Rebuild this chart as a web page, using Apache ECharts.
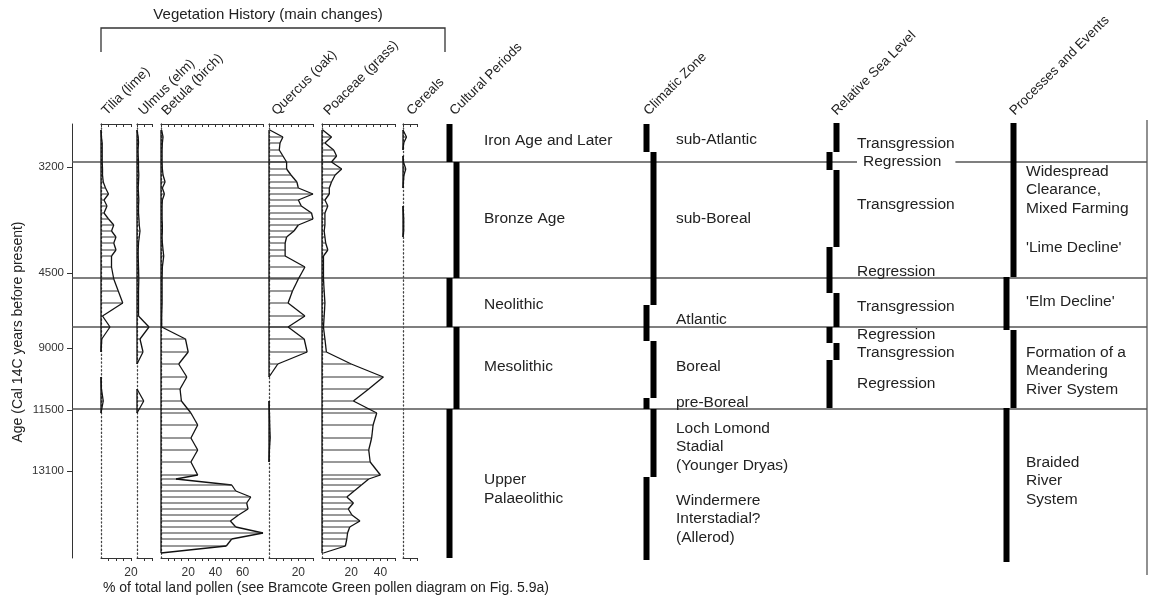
<!DOCTYPE html>
<html>
<head>
<meta charset="utf-8">
<script src="https://cdn.jsdelivr.net/npm/echarts@6/dist/echarts.min.js"></script>
<style>
  html, body { margin: 0; padding: 0; background: #fff; }
  #chart { width: 1151px; height: 604px; }
</style>
</head>
<body>
<div id="chart"></div>
<script>
// ---- data ----
// sample depths down the core (0 = top of diagram, 434 = base)
var depths = [6, 13, 19, 26, 32, 38, 45, 51, 58, 64, 70, 76, 82, 89, 95, 101, 107, 113, 119, 126, 132,
  143, 155, 167, 179, 192, 203, 215, 228, 240, 253, 265, 277, 289, 301, 314, 326, 338, 351,
  355, 361, 367, 373, 379, 385, 391, 397, 403, 409, 415, 422, 429];

// % of total land pollen at each depth
var tilia = [0, 0.3, 0.8, 0.8, 0.8, 0.8, 1, 1, 1.5, 3, 5, 2, 4, 2, 5, 8.5, 7, 10, 8.5, 10, 7,
  7, 8.5, 11.5, 14.5, 1, 6, 0.5, 0, 0, 0, 0.3, 1.5, 0, 0, 0, 0, 0, 0,
  0, 0, 0, 0, 0, 0, 0, 0, 0, 0, 0, 0, 0];
var ulmus = [0, 0.8, 1, 0.7, 0.8, 1, 1, 1.2, 1, 0.8, 1, 1.2, 1, 1, 1.3, 1.5, 2, 1.5, 1, 0.8, 0.8,
  1, 1.2, 1, 1, 1, 8, 2, 4, 0, 0, 0, 4.5, 0, 0, 0, 0, 0, 0,
  0, 0, 0, 0, 0, 0, 0, 0, 0, 0, 0, 0, 0];
var betula = [0.5, 1.5, 1, 0.8, 0.8, 0.8, 1, 1.5, 3, 1, 2.5, 1, 0.8, 0.8, 0.8, 1, 1, 0.8, 1, 1.5, 2,
  1, 0.8, 0.8, 0.8, 0.5, 0.5, 18, 20, 13, 19, 14, 15, 22, 27, 22, 27, 22, 27,
  11, 52, 55, 66, 63, 64, 57, 51, 55, 75, 52, 48, 0];
var quercus = [0.5, 9.5, 7.5, 7, 9.5, 12, 12, 15, 19, 20, 30, 20, 22, 29, 30, 20, 17, 12, 11, 11, 11,
  24.5, 20, 16, 13, 24.5, 13, 24, 26, 6, 0, 0, 0, 0.3, 0.5, 0.8, 0.3, 0, 0,
  0, 0, 0, 0, 0, 0, 0, 0, 0, 0, 0, 0, 0];
var poaceae = [0.5, 6.5, 2, 8, 10, 6.5, 13.5, 9, 6.5, 5, 5, 2, 4, 2, 2, 2, 1.5, 2, 2.5, 4, 1,
  1, 1, 1.5, 2, 1.5, 1, 2, 3, 20, 42, 32, 21.5, 37.5, 35, 34, 32, 33, 40,
  32, 27, 22, 17, 21.5, 18, 20.5, 26, 19, 17.5, 17, 16, 1];
var cereals = [0, 2.5, 0.5, 0, 0, 0.3, 2, 0.7, 0.3, 0, 0, 0, 0, 0.3, 0.5, 0.5, 0.5, 0, 0, 0, 0,
  0, 0, 0, 0, 0, 0, 0, 0, 0, 0, 0, 0, 0, 0, 0, 0, 0, 0,
  0, 0, 0, 0, 0, 0, 0, 0, 0, 0, 0, 0, 0];

var taxa = ['Tilia (lime)', 'Ulmus (elm)', 'Betula (birch)', 'Quercus (oak)', 'Poaceae (grass)', 'Cereals'];
var taxaMax = [20, 10, 75, 30, 50, 10];
var taxaLabels = [[20], [], [20, 40, 60], [20], [20, 40], []];

// age axis
var ageLabels = ['3200', '4500', '9000', '11500', '13100'];
var ageDepths = [43, 149, 224, 286, 347];
var zoneBounds = [38, 154, 203, 285];

// stepped bars: [from depth, to depth, side]
var culturalSteps = [[0, 38, 0], [38, 154, 1], [154, 203, 0], [203, 285, 1], [285, 434, 0]];
var climaticSteps = [[0, 28, 0], [28, 181, 1], [181, 217, 0], [217, 274, 1], [274, 285, 0], [285, 353, 1], [353, 436, 0]];
var seaSteps = [[-1, 28, 1], [28, 46, 0], [46, 123, 1], [123, 169, 0], [169, 203, 1], [203, 219, 0], [219, 236, 1], [236, 284, 0]];
var processSteps = [[-1, 153, 1], [153, 206, 0], [206, 284, 1], [284, 438, 0]];

var culturalLabels = [['Iron Age and Later', 17], ['Bronze Age', 95], ['Neolithic', 181], ['Mesolithic', 243], ['Upper\nPalaeolithic', 365]];
var climaticLabels = [['sub-Atlantic', 16], ['sub-Boreal', 95], ['Atlantic', 196], ['Boreal', 243], ['pre-Boreal', 279],
  ['Loch Lomond\nStadial\n(Younger Dryas)', 323], ['Windermere\nInterstadial?\n(Allerod)', 395]];
var seaLabels = [['Transgression', 20], ['Regression', 38], ['Transgression', 81], ['Regression', 148],
  ['Transgression', 183], ['Regression', 211], ['Transgression', 229], ['Regression', 260]];
var processLabels = [['Widespread\nClearance,\nMixed Farming', 66], ["'Lime Decline'", 124], ["'Elm Decline'", 178],
  ['Formation of a\nMeandering\nRiver System', 247], ['Braided\nRiver\nSystem', 357]];

// ---- layout ----
var FONT = '"Liberation Sans", Arial, sans-serif';
var TOP = 124, HEIGHT = 434, DMAX = 434;
var panelLeft = [101, 137, 161, 269, 322, 403];
var panelWidth = [30, 15, 102, 44, 73, 14];
var BAR_W = 6, BAR_SHIFT = 7;
var barX = { cultural: 449.5, climatic: 646.5, sea: 829.5, process: 1006.5 };
var textX = { cultural: 484, climatic: 676, sea: 857, process: 1026 };

var myChart = echarts.init(document.getElementById('chart'));

var grids = [], xAxes = [], yAxes = [], series = [];

taxa.forEach(function (name, g) {
  var values = [tilia, ulmus, betula, quercus, poaceae, cereals][g];
  grids.push({ left: panelLeft[g], width: panelWidth[g], top: TOP, height: HEIGHT, outerBoundsMode: 'none' });
  var labels = taxaLabels[g];
  xAxes.push({
    gridIndex: g, type: 'value', min: 0, max: taxaMax[g], interval: 5, position: 'bottom',
    axisLine: { show: true, onZero: false, lineStyle: { color: '#333', width: 1 } },
    axisTick: { show: true, length: 3, lineStyle: { color: '#333' } },
    axisLabel: {
      show: true, margin: 9, fontSize: 12, color: '#333', fontFamily: FONT,
      showMinLabel: false,
      formatter: function (v) { return labels.indexOf(v) >= 0 ? String(v) : ''; }
    },
    splitLine: { show: false }
  });
  xAxes.push({
    gridIndex: g, type: 'value', min: 0, max: taxaMax[g], interval: 5, position: 'top',
    axisLine: { show: true, onZero: false, lineStyle: { color: '#333', width: 1 } },
    axisTick: { show: true, inside: true, length: 3, lineStyle: { color: '#333' } },
    axisLabel: { show: false }, splitLine: { show: false }
  });
  yAxes.push({
    gridIndex: g, type: 'value', min: 0, max: DMAX, inverse: true,
    axisLine: { show: true, onZero: false, lineStyle: { color: '#444', width: 1.3, type: [1.3, 2.6] } },
    axisTick: { show: false }, axisLabel: { show: false }, splitLine: { show: false }
  });
  series.push({
    type: 'custom', xAxisIndex: 2 * g, yAxisIndex: g, z: 4, clip: false,
    data: values.map(function (v, i) { return [v, depths[i]]; }),
    renderItem: function (params, api) {
      var i = params.dataIndex, v = values[i], d = depths[i];
      var kids = [];
      var b0 = api.coord([0, d]), p0 = api.coord([v, d]);
      if (v > 0) {
        kids.push({ type: 'line', shape: { x1: b0[0], y1: b0[1], x2: p0[0], y2: p0[1] },
          style: { stroke: '#333', lineWidth: 1 } });
      }
      if (i < values.length - 1) {
        var vn = values[i + 1], dn = depths[i + 1];
        if (v > 0 || vn > 0) {
          var b1 = api.coord([0, dn]), p1 = api.coord([vn, dn]);
          kids.push({ type: 'line', shape: { x1: p0[0], y1: p0[1], x2: p1[0], y2: p1[1] },
            style: { stroke: '#111', lineWidth: 1.3 } });
          kids.push({ type: 'line', shape: { x1: b0[0], y1: b0[1], x2: b1[0], y2: b1[1] },
            style: { stroke: '#111', lineWidth: 1.3 } });
        }
      }
      return { type: 'group', children: kids };
    }
  });
});

// main frame grid: age axis, zone lines, stepped bars and text columns
var M = taxa.length;
grids.push({ left: 72, width: 1075, top: TOP, height: HEIGHT, outerBoundsMode: 'none' });
xAxes.push({ gridIndex: M, type: 'value', min: 0, max: 1, show: false });
yAxes.push({
  gridIndex: M, type: 'value', min: 0, max: DMAX, inverse: true, position: 'left',
  axisLine: { show: true, onZero: false, lineStyle: { color: '#333', width: 1 } },
  axisTick: { show: true, length: 5, customValues: ageDepths, lineStyle: { color: '#333' } },
  axisLabel: {
    show: true, margin: 8, fontSize: 11.5, color: '#333', fontFamily: FONT, customValues: ageDepths,
    formatter: function (v) { var k = ageDepths.indexOf(v); return k >= 0 ? ageLabels[k] : ''; }
  },
  splitLine: { show: false }
});

series.push({
  type: 'custom', xAxisIndex: 2 * M, yAxisIndex: M, z: 2, clip: false,
  data: zoneBounds.map(function (d) { return [0, d]; }),
  renderItem: function (params, api) {
    var cs = params.coordSys;
    var y = api.coord([0, api.value(1)])[1];
    return { type: 'line', shape: { x1: cs.x, y1: y, x2: cs.x + cs.width, y2: y },
      style: { stroke: '#555', lineWidth: 1.6 } };
  }
});

function stepSeries(col, steps) {
  return {
    type: 'custom', xAxisIndex: 2 * M, yAxisIndex: M, z: 3, clip: false,
    data: steps,
    renderItem: function (params, api) {
      var y1 = api.coord([0, api.value(0)])[1];
      var y2 = api.coord([0, api.value(1)])[1];
      var x = barX[col] + api.value(2) * BAR_SHIFT;
      return { type: 'rect', shape: { x: x - BAR_W / 2, y: y1, width: BAR_W, height: y2 - y1 },
        style: { fill: '#000' } };
    }
  };
}

function labelSeries(col, labels) {
  return {
    type: 'custom', xAxisIndex: 2 * M, yAxisIndex: M, z: 10, clip: false,
    data: labels.map(function (l) { return [0, l[1]]; }),
    renderItem: function (params, api) {
      var d = labels[params.dataIndex][1];
      var y = api.coord([0, d])[1];
      // a label sitting right on a zone line masks it
      var onLine = zoneBounds.some(function (b) { return Math.abs(b - d) < 2; });
      return {
        type: 'text', x: textX[col], y: y,
        style: {
          text: labels[params.dataIndex][0], fill: '#222',
          font: '15.5px ' + FONT, lineHeight: 18.5,
          align: 'left', verticalAlign: 'middle',
          backgroundColor: onLine ? '#fff' : null,
          padding: onLine ? [0, 14, 0, 6] : 0
        }
      };
    }
  };
}

series.push(stepSeries('cultural', culturalSteps));
series.push(stepSeries('climatic', climaticSteps));
series.push(stepSeries('sea', seaSteps));
series.push(stepSeries('process', processSteps));
series.push(labelSeries('cultural', culturalLabels));
series.push(labelSeries('climatic', climaticLabels));
series.push(labelSeries('sea', seaLabels));
series.push(labelSeries('process', processLabels));

// rotated column headers
var headerPos = [[109, 118], [146, 118], [169, 118], [279, 118], [331, 118], [414, 118]];
var headers = taxa.map(function (t, i) { return [t, headerPos[i][0], headerPos[i][1]]; })
  .concat([['Cultural Periods', 457, 118], ['Climatic Zone', 651, 118],
           ['Relative Sea Level', 839, 118], ['Processes and Events', 1017, 118]]);

var graphic = headers.map(function (h) {
  return {
    type: 'text', x: h[1], y: h[2], rotation: Math.PI / 4,
    style: { text: h[0], font: '13.5px ' + FONT, fill: '#222', align: 'left', verticalAlign: 'bottom',
      textAlign: 'left', textVerticalAlign: 'bottom' }
  };
});
graphic.push(
  { type: 'text', x: 268, y: 15, style: { text: 'Vegetation History (main changes)', font: '15px ' + FONT,
      fill: '#222', align: 'center', verticalAlign: 'middle', textAlign: 'center', textVerticalAlign: 'middle' } },
  { type: 'polyline', shape: { points: [[101, 52], [101, 28], [445, 28], [445, 52]] },
    style: { stroke: '#333', lineWidth: 1.3, fill: null } },
  { type: 'text', x: 18, y: 332, rotation: Math.PI / 2,
    style: { text: 'Age (Cal 14C years before present)', font: '14px ' + FONT, fill: '#222',
      align: 'center', verticalAlign: 'middle', textAlign: 'center', textVerticalAlign: 'middle' } },
  { type: 'text', x: 103, y: 588,
    style: { text: '% of total land pollen (see Bramcote Green pollen diagram on Fig. 5.9a)', font: '14px ' + FONT,
      fill: '#222', align: 'left', verticalAlign: 'middle', textAlign: 'left', textVerticalAlign: 'middle' } },
  { type: 'line', shape: { x1: 1147, y1: 120, x2: 1147, y2: 575 }, style: { stroke: '#555', lineWidth: 1.3 } }
);

var option = {
  animation: false,
  backgroundColor: '#fff',
  grid: grids,
  xAxis: xAxes,
  yAxis: yAxes,
  series: series,
  graphic: graphic
};

myChart.setOption(option);
window.addEventListener('resize', function () {
  myChart.resize();
});
</script>
</body>
</html>
